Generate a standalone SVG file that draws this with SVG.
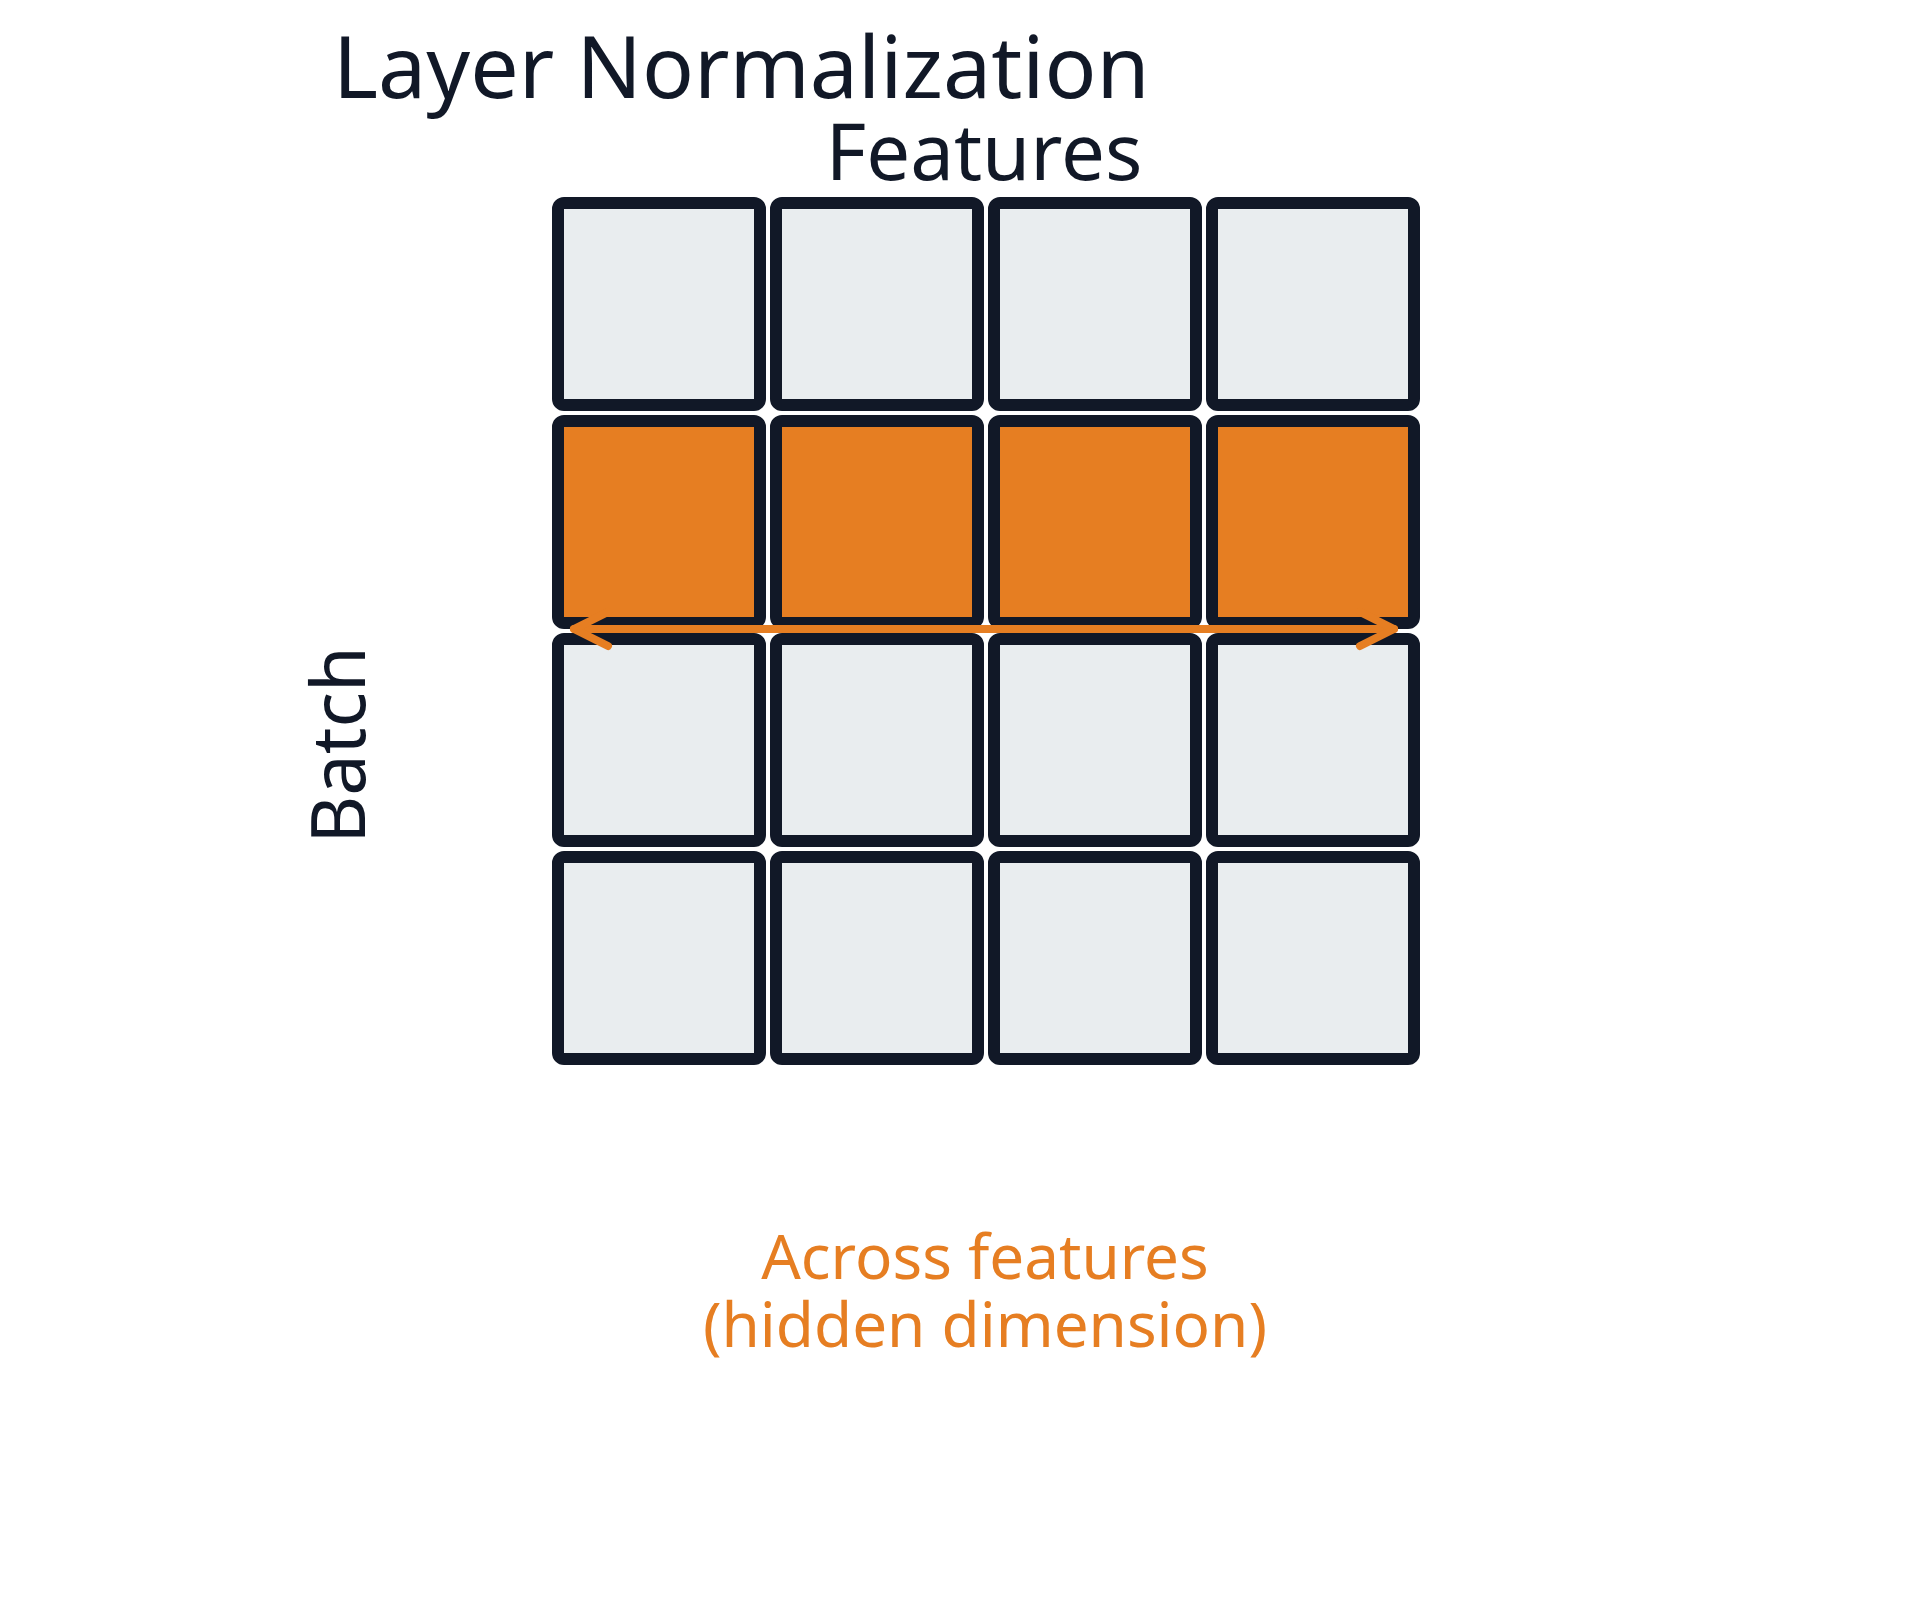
<svg xmlns="http://www.w3.org/2000/svg" width="1920" height="1600" viewBox="0 0 1920 1600">
<style>
.c{stroke:#111827;stroke-width:12;rx:6}
.l{fill:#e9edef}
.o{fill:#e67e22}
.a{fill:none;stroke:#e67e22;stroke-width:8;stroke-linecap:round;stroke-linejoin:round}
text{font-family:"Noto Sans","DejaVu Sans",sans-serif}
</style>
<rect width="1920" height="1600" fill="#fff"/>
<text x="333" y="98" font-size="86" fill="#111827">Layer Normalization</text>
<text x="984" y="180" font-size="78" fill="#111827" text-anchor="middle">Features</text>
<text transform="translate(365,745) rotate(-90)" font-size="74" fill="#111827" text-anchor="middle">Batch</text>
<g id="row0"><rect class="c l" x="558" y="203" width="202" height="202"/><rect class="c l" x="776" y="203" width="202" height="202"/><rect class="c l" x="994" y="203" width="202" height="202"/><rect class="c l" x="1212" y="203" width="202" height="202"/></g>
<g id="row1"><rect class="c o" x="558" y="421" width="202" height="202"/><rect class="c o" x="776" y="421" width="202" height="202"/><rect class="c o" x="994" y="421" width="202" height="202"/><rect class="c o" x="1212" y="421" width="202" height="202"/></g>
<g id="row2"><rect class="c l" x="558" y="639" width="202" height="202"/><rect class="c l" x="776" y="639" width="202" height="202"/><rect class="c l" x="994" y="639" width="202" height="202"/><rect class="c l" x="1212" y="639" width="202" height="202"/></g>
<g id="row3"><rect class="c l" x="558" y="857" width="202" height="202"/><rect class="c l" x="776" y="857" width="202" height="202"/><rect class="c l" x="994" y="857" width="202" height="202"/><rect class="c l" x="1212" y="857" width="202" height="202"/></g>
<g id="connectors">
<line class="a" x1="574" y1="629" x2="1394" y2="629"/>
<path class="a" d="M608,612 L574,629 L608,646"/>
<path class="a" d="M1360,612 L1394,629 L1360,646"/>
</g>
<text x="985" y="1279" font-size="62" fill="#e67e22" text-anchor="middle">Across features</text>
<text x="985" y="1347" font-size="62" fill="#e67e22" text-anchor="middle">(hidden dimension)</text>
</svg>
